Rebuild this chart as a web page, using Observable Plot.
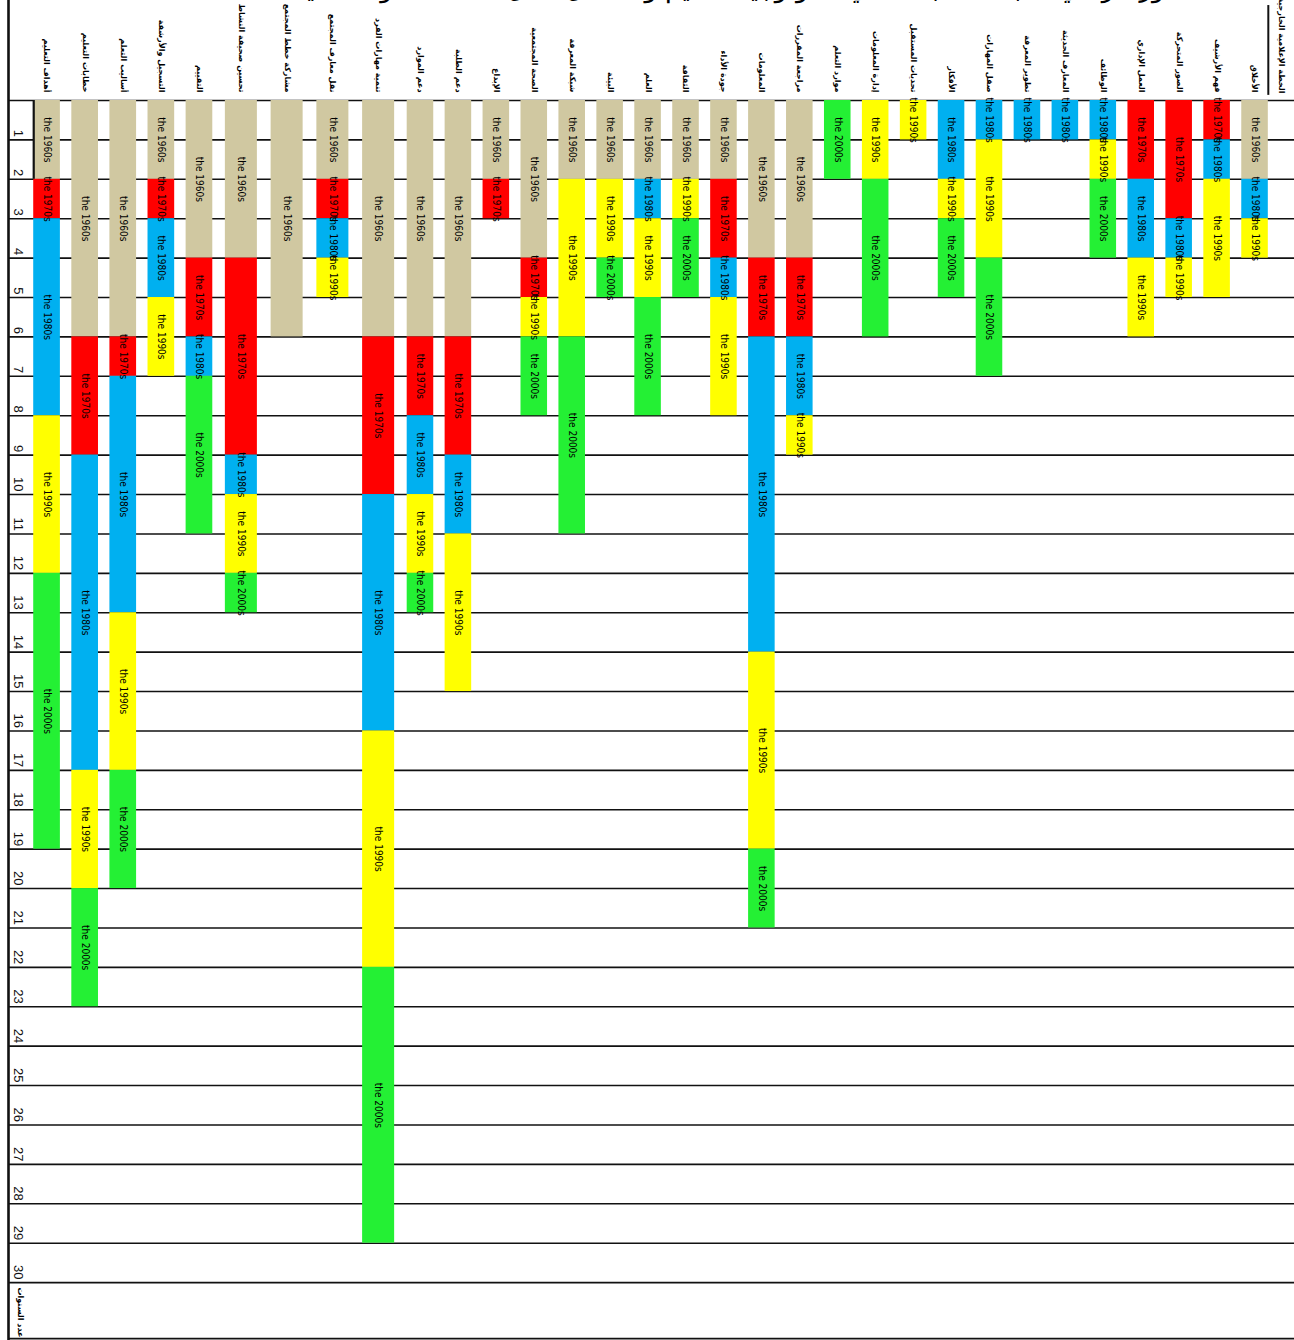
<!DOCTYPE html>
<html>
<head>
<meta charset="utf-8">
<script src="https://cdn.jsdelivr.net/npm/d3@7"></script>
<script src="https://cdn.jsdelivr.net/npm/@observablehq/plot@0.6"></script>
<style>
  html, body { margin: 0; padding: 0; background: #fff; }
  #chart svg { display: block; }
</style>
</head>
<body>
<div id="chart"></div>
<script>
// ---------- data ----------
const title = "التطور الزمني لمجالات البحث في تكنولوجيا التعليم والاتصال خلال خمسة عقود متتالية";

const columns = [
  "أهداف التعليم",
  "خطابات التعليم",
  "أساليب التعلم",
  "التسجيل والأرشفة",
  "التقييم",
  "تحسين صحيفة النشاط",
  "مشاركة خطط المجتمع",
  "نقل معارف المجتمع",
  "تنمية مهارات الفرد",
  "دعم الموارد",
  "دعم الطلبة",
  "الإبداع",
  "الصحة المجتمعية",
  "شبكة المعرفة",
  "البيئة",
  "العلم",
  "الثقافة",
  "جودة الأداء",
  "المعلومات",
  "مراجعة المقررات",
  "موارد التعلم",
  "إدارة المعلومات",
  "تحديات المستقبل",
  "الأفكار",
  "صقل المهارات",
  "تطوير المعرفة",
  "المعارف الحديثة",
  "الوظائف",
  "العمل الإداري",
  "الصور المتحركة",
  "فهم الأرشيف",
  "الأخلاق"
];
const extraHeader = "الخطة الإعلامية الخارجية";

const decades = ["the 1960s", "the 1970s", "the 1980s", "the 1990s", "the 2000s"];
const decadeColors = ["#d0c8a1", "#ff0000", "#00b0f0", "#ffff00", "#24f034"];

// number of rows (years) each column spends in each decade, top to bottom
const y1960s = [2,6,6,2,4,4,6,2,6,6,6,2,4,2,2,2,2,2,4,4,0,0,0,0,0,0,0,0,0,0,0,2];
const y1970s = [1,3,1,1,2,5,0,1,4,2,3,1,1,0,0,0,0,2,2,2,0,0,0,0,0,0,0,0,2,3,1,0];
const y1980s = [5,8,6,2,1,1,0,1,6,2,2,0,0,0,0,1,0,1,8,2,0,0,0,2,1,1,1,1,2,1,1,1];
const y1990s = [4,3,4,2,0,2,0,1,6,2,4,0,1,4,2,2,1,3,5,1,0,2,1,1,3,0,0,1,2,1,3,1];
const y2000s = [7,3,3,0,4,1,0,0,7,1,0,0,2,5,1,3,2,0,2,0,2,4,0,2,3,0,0,2,0,0,0,0];

const rowLabels = d3.range(1, 31);
const axisLabel = "عدد السنوات";

// ---------- build table ----------
const series = [y1960s, y1970s, y1980s, y1990s, y2000s];
const segments = [];
columns.forEach((name, i) => {
  let top = 0;
  series.forEach((vals, k) => {
    const v = vals[i];
    if (v > 0) segments.push({col: i + 1, name, decade: decades[k], y1: top, y2: top + v});
    top += v;
  });
});
const half = 0.35;
const rowLines = [0, ...rowLabels];
const bottomEdge = 31.42;

const arabicFont = "'DejaVu Sans', sans-serif";
const narrowFont = "'Liberation Sans Narrow', 'DejaVu Sans Condensed', 'Liberation Sans', sans-serif";

const chart = Plot.plot({
  width: 1294,
  height: 1340,
  marginTop: 0,
  marginBottom: 0,
  marginLeft: 8,
  marginRight: 0,
  style: {background: "#fff", fontFamily: "'Liberation Sans', Arial, sans-serif", overflow: "visible"},
  x: {type: "linear", domain: [0.5, 5.5, 9.5, 32.5], range: [27.5, 218, 401, 1273.5], axis: null},
  y: {type: "linear", domain: [-2.538, 31.47], range: [0, 1340], axis: null},
  color: {domain: decades, range: decadeColors},
  marks: [
    Plot.ruleY(rowLines, {stroke: "#111", strokeWidth: 1.6}),
    Plot.ruleY([bottomEdge], {stroke: "#111", strokeWidth: 1.8}),
    Plot.rect(segments, {
      x1: d => d.col - half, x2: d => d.col + half,
      y1: "y1", y2: "y2", fill: "decade"
    }),
    Plot.text(segments, {
      x: "col", y: d => (d.y1 + d.y2) / 2, text: "decade",
      rotate: 90, fontSize: 10, fill: "#000", fontFamily: narrowFont
    }),
    Plot.ruleX([1 - half], {y1: 0, y2: 2, stroke: "#111", strokeWidth: 2.2}),
    Plot.ruleX([columns.length + half], {y1: -2.41, y2: -0.13, stroke: "#111", strokeWidth: 2}),
    // row numbers
    Plot.text(rowLabels, {
      y: d => d, text: d => String(d), frameAnchor: "left", dx: 10, dy: -3,
      rotate: 90, textAnchor: "end", fontSize: 13, fill: "#111"
    }),
    // column headers
    Plot.text(columns, {
      x: (d, i) => i + 1, y: 0, text: d => d, dy: -8,
      rotate: 90, textAnchor: "end", fontSize: 8, fontWeight: "bold",
      fill: "#000", fontFamily: arabicFont
    }),
    Plot.text([extraHeader], {
      frameAnchor: "right", y: 0, text: d => d, dx: -13, dy: -7,
      rotate: 90, textAnchor: "end", fontSize: 8, fontWeight: "bold",
      fill: "#000", fontFamily: arabicFont
    }),
    // y label bottom-left
    Plot.text([axisLabel], {
      frameAnchor: "bottom-left", text: d => d, dx: 9, dy: -3,
      rotate: 90, textAnchor: "end", fontSize: 8, fontWeight: "bold",
      fill: "#000", fontFamily: arabicFont
    }),
    // title (clipped at the top as in the original)
    Plot.text([title], {
      frameAnchor: "top", text: d => d, lineAnchor: "bottom", dx: 100, dy: -4,
      fontSize: 26, fill: "#000", fontFamily: arabicFont
    }),
    Plot.frame({anchor: "left", stroke: "#111", strokeWidth: 2.6})
  ]
});
document.getElementById("chart").appendChild(chart);
</script>
</body>
</html>
